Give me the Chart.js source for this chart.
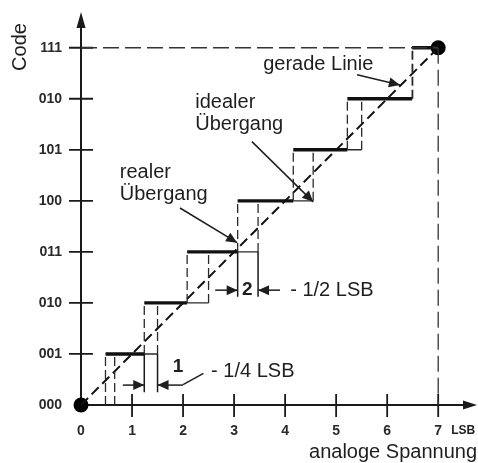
<!DOCTYPE html>
<html>
<head>
<meta charset="utf-8">
<script src="https://cdn.jsdelivr.net/npm/chart.js@4.4.1/dist/chart.umd.min.js"></script>
<style>
html,body{margin:0;padding:0;background:#fff;}
canvas{display:block;}
</style>
</head>
<body>
<canvas id="c" width="478" height="463"></canvas>
<script>
// ---- data ----
const xTickValues = [0, 1, 2, 3, 4, 5, 6, 7];
const yTickLabels = ["000", "001", "010", "011", "100", "101", "010", "111"];
const codes = [1, 2, 3, 4, 5, 6, 7];
const realTransitions = [0.48, 1.24, 2.08, 3.07, 4.16, 5.22, 6.49];
const idealTransitions = [0.66, 1.5, 2.5, 3.47, 4.55, 5.5, 6.5];
const fullScale = 7;
const endPoints = [{x: 0, y: 0}, {x: 7, y: 7}];
// measurement annotations: transition index, lower end of extension lines
const measureIdx = [1, 3];
const measureBottom = [0.25, 2.12];

// ---- build datasets from the arrays ----
const INK = '#111';
const thick = [];
codes.forEach((k, i) => {
  const x0 = realTransitions[i];
  const x1 = i < codes.length - 1 ? realTransitions[i + 1] : fullScale;
  thick.push({x: x0, y: k}, {x: x1, y: k}, {x: x1, y: null});
});
const thin = [];
codes.slice(0, -1).forEach((k, i) => {
  thin.push({x: realTransitions[i + 1], y: k}, {x: idealTransitions[i + 1], y: k}, {x: idealTransitions[i + 1], y: null});
});
const verts = [];
codes.forEach((k, i) => {
  [realTransitions[i], idealTransitions[i]].forEach(x => {
    verts.push({x: x, y: k - 1}, {x: x, y: k}, {x: x, y: null});
  });
});
const ext = [];
measureIdx.forEach((ti, j) => {
  const lvl = codes[ti] - 1;
  [realTransitions[ti], idealTransitions[ti]].forEach(x => {
    ext.push({x: x, y: lvl}, {x: x, y: measureBottom[j]}, {x: x, y: null});
  });
});

const lineDs = (data, color, width, dash) => ({
  data, showLine: true, spanGaps: false, borderColor: color, borderWidth: width,
  borderDash: dash || [], pointRadius: 0, fill: false, clip: false, tension: 0
});

// ---- annotation plugin (positions in data units) ----
const FONT = '"Liberation Sans", Arial, sans-serif';
function arrowHead(ctx, x1, y1, x2, y2, len, hw) {
  const a = Math.atan2(y2 - y1, x2 - x1);
  ctx.beginPath();
  ctx.moveTo(x2, y2);
  ctx.lineTo(x2 - len * Math.cos(a) + hw * Math.sin(a), y2 - len * Math.sin(a) - hw * Math.cos(a));
  ctx.lineTo(x2 - len * Math.cos(a) - hw * Math.sin(a), y2 - len * Math.sin(a) + hw * Math.cos(a));
  ctx.closePath();
  ctx.fill();
}
const labels = [
  {t: 'gerade Linie', x: 3.57, y: 6.67},
  {t: 'idealer', x: 2.24, y: 5.92},
  {t: 'Übergang', x: 2.24, y: 5.49},
  {t: 'realer', x: 0.76, y: 4.55},
  {t: 'Übergang', x: 0.76, y: 4.12},
  {t: '- 1/2 LSB', x: 4.1, y: 2.25},
  {t: '- 1/4 LSB', x: 2.55, y: 0.65}
];
const boldLabels = [
  {t: '2', x: 3.26, y: 2.25},
  {t: '1', x: 1.9, y: 0.74}
];
const arrows = [
  [5.41, 6.47, 6.25, 6.27],
  [3.35, 5.16, 4.55, 3.98],
  [1.94, 3.86, 3.06, 3.18],
  [2.63, 2.25, 3.07, 2.25],
  [3.9, 2.25, 3.47, 2.25],
  [0.82, 0.39, 1.24, 0.39],
  [2.0, 0.39, 1.5, 0.39]
];
const leaderLines = [[2.0, 0.40, 2.4, 0.62]];

const deco = {
  id: 'deco',
  beforeDatasetsDraw(chart) {
    const {ctx, scales: {x, y}} = chart;
    const x0 = x.getPixelForValue(0), y0 = y.getPixelForValue(0);
    ctx.save();
    ctx.strokeStyle = '#1a1a1a';
    ctx.fillStyle = '#1a1a1a';
    ctx.lineWidth = 2;
    // axes
    ctx.beginPath();
    ctx.moveTo(x0, y0); ctx.lineTo(x0, chart.chartArea.top + 8);
    ctx.moveTo(x0, y0); ctx.lineTo(chart.chartArea.right - 8, y0);
    ctx.stroke();
    arrowHead(ctx, x0, y0, x0, chart.chartArea.top, 16, 4.5);
    arrowHead(ctx, x0, y0, chart.chartArea.right - 1, y0, 14, 4.5);
    // tick marks crossing the axes
    ctx.lineWidth = 1.8;
    ctx.beginPath();
    xTickValues.slice(1).forEach(v => {
      const px = x.getPixelForValue(v);
      ctx.moveTo(px, y0 - 11); ctx.lineTo(px, y0 + 12);
    });
    yTickLabels.forEach((l, v) => {
      if (v === 0) return;
      const py = y.getPixelForValue(v);
      ctx.moveTo(x0 - 12, py); ctx.lineTo(x0 + 12, py);
    });
    ctx.stroke();
    ctx.restore();
  },
  afterDatasetsDraw(chart) {
    const {ctx, scales: {x, y}} = chart;
    ctx.save();
    ctx.fillStyle = '#1e1e1e';
    ctx.strokeStyle = '#1e1e1e';
    ctx.textBaseline = 'middle';
    ctx.font = '20px ' + FONT;
    ctx.textAlign = 'left';
    labels.forEach(l => ctx.fillText(l.t, x.getPixelForValue(l.x), y.getPixelForValue(l.y)));
    ctx.font = 'bold 19px ' + FONT;
    ctx.textAlign = 'center';
    boldLabels.forEach(l => ctx.fillText(l.t, x.getPixelForValue(l.x), y.getPixelForValue(l.y)));
    ctx.lineWidth = 1.5;
    arrows.forEach(a => {
      const p1x = x.getPixelForValue(a[0]), p1y = y.getPixelForValue(a[1]);
      const p2x = x.getPixelForValue(a[2]), p2y = y.getPixelForValue(a[3]);
      ctx.beginPath(); ctx.moveTo(p1x, p1y); ctx.lineTo(p2x, p2y); ctx.stroke();
      arrowHead(ctx, p1x, p1y, p2x, p2y, 11, 5);
    });
    leaderLines.forEach(a => {
      ctx.beginPath();
      ctx.moveTo(x.getPixelForValue(a[0]), y.getPixelForValue(a[1]));
      ctx.lineTo(x.getPixelForValue(a[2]), y.getPixelForValue(a[3]));
      ctx.stroke();
    });
    // axis titles
    ctx.font = '20px ' + FONT;
    ctx.textAlign = 'right';
    ctx.fillText('analoge Spannung', chart.width - 1, 452);
    ctx.font = 'bold 12px ' + FONT;
    ctx.textAlign = 'center';
    ctx.fillText('LSB', x.getPixelForValue(7.49), 431);
    ctx.save();
    ctx.translate(20, 47);
    ctx.rotate(-Math.PI / 2);
    ctx.font = '20px ' + FONT;
    ctx.textAlign = 'center';
    ctx.fillText('Code', 0, 0);
    ctx.restore();
    ctx.restore();
  }
};

const noPad = s => { s.paddingTop = 0; s.paddingBottom = 0; s.paddingLeft = 0; s.paddingRight = 0; };

new Chart(document.getElementById('c'), {
  type: 'scatter',
  data: {
    datasets: [
      lineDs(verts, '#2a2a2a', 1.3, [9, 4]),
      lineDs(ext, '#1a1a1a', 1.5),
      lineDs(thin, '#2a2a2a', 1.4),
      lineDs([{x: 0, y: fullScale}, {x: fullScale, y: fullScale}, {x: fullScale, y: null}, {x: fullScale, y: fullScale}, {x: fullScale, y: 0}], '#333', 1.3, [16, 6]),
      lineDs(endPoints, INK, 2, [10, 5]),
      lineDs(thick, INK, 3.4),
      {data: endPoints, showLine: false, pointRadius: 7.5, pointBackgroundColor: '#000', pointBorderWidth: 0, clip: false}
    ]
  },
  options: {
    responsive: false,
    animation: false,
    events: [],
    layout: {autoPadding: false, padding: {top: 12, left: 0, right: 0, bottom: 0}},
    plugins: {legend: {display: false}, tooltip: {enabled: false}},
    scales: {
      x: {
        type: 'linear', min: 0, max: 7.78,
        grid: {display: false, drawTicks: false},
        border: {display: false},
        afterBuildTicks: s => { s.ticks = xTickValues.map(v => ({value: v})); },
        afterFit: s => { s.height = 58; noPad(s); },
        ticks: {autoSkip: false, maxRotation: 0, padding: 18, color: '#2a2a2a', font: {family: FONT, size: 14, weight: 'bold'}}
      },
      y: {
        type: 'linear', min: 0, max: 7.7,
        grid: {display: false, drawTicks: false},
        border: {display: false},
        afterBuildTicks: s => { s.ticks = yTickLabels.map((l, v) => ({value: v})); },
        afterFit: s => { s.width = 81; noPad(s); },
        ticks: {autoSkip: false, padding: 19, color: '#2a2a2a', font: {family: FONT, size: 14, weight: 'bold'},
          callback: v => yTickLabels[v]}
      }
    }
  },
  plugins: [deco]
});
</script>
</body>
</html>
